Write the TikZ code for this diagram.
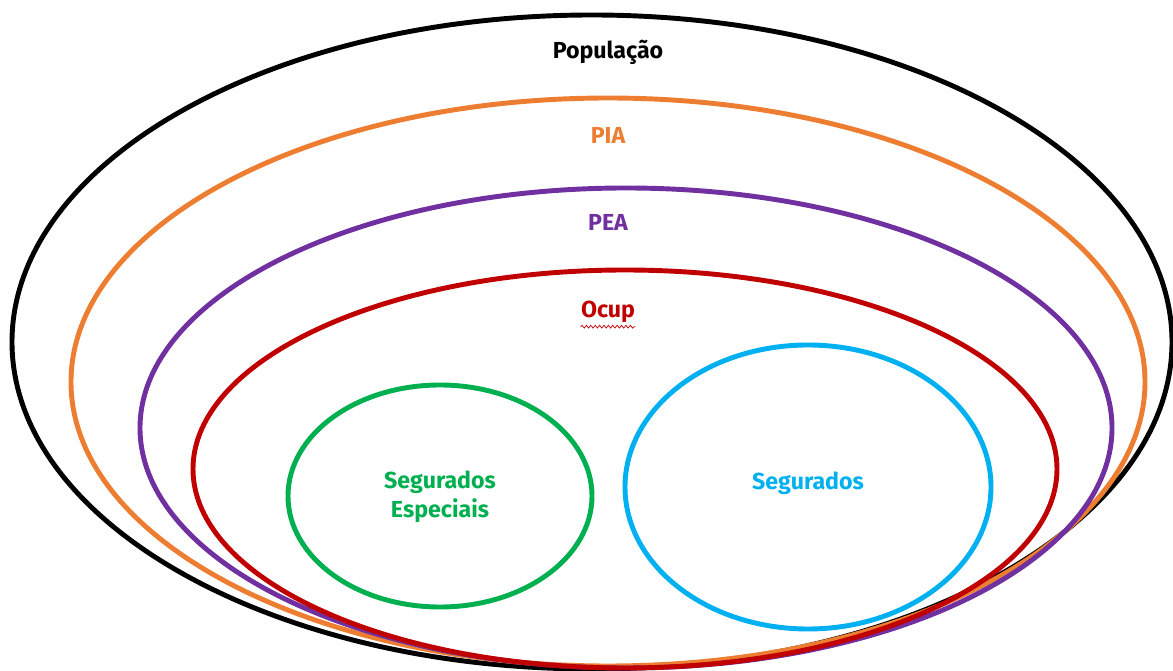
\documentclass[tikz,border=0pt]{standalone}
\usepackage{fontspec}
\setmainfont{Fira Sans}
\usetikzlibrary{decorations.pathmorphing}

\definecolor{cpia}{HTML}{ED7D31}
\definecolor{cpea}{HTML}{7030A0}
\definecolor{cocup}{HTML}{C00000}
\definecolor{cesp}{HTML}{00B050}
\definecolor{cseg}{HTML}{00B0F0}

\tikzset{
  ring/.style={line width=2.8pt},
  lbl/.style={font=\bfseries\fontsize{13.2}{16.5}\selectfont, align=center, inner sep=0pt}
}

\begin{document}
\begin{tikzpicture}[x=0.02cm, y=-0.02cm]
\useasboundingbox (0,0) rectangle (1173,671);

\draw[ring, black] (592,342) ellipse [x radius=580, y radius=327];
\draw[ring, cpia] (608,382) ellipse [x radius=537, y radius=284];
\draw[ring, cpea] (626,428) ellipse [x radius=486, y radius=240];
\draw[ring, cocup] (625,469) ellipse [x radius=432, y radius=199];
\draw[ring, cesp] (440,496) ellipse [x radius=152, y radius=111];
\draw[ring, cseg] (808,487) ellipse [x radius=183, y radius=142];

\node[lbl, text=black] (pop) at (608, 52) {População};
\node[lbl, text=cpia] (pia) at (608, 135) {PIA};
\node[lbl, text=cpea] (pea) at (608, 222) {PEA};
\node[lbl, text=cocup] (ocup) at (608, 312) {Ocup};
\node[lbl, text=cesp] (esp) at (440, 497) {Segurados\\Especiais};
\node[lbl, text=cseg] (seg) at (808, 483) {Segurados};

\draw[cocup, line width=0.4pt, decorate, decoration={snake, amplitude=0.8pt, segment length=2.5pt}]
  ([yshift=-2pt]ocup.south west) -- ([yshift=-2pt]ocup.south east);
\end{tikzpicture}
\end{document}
